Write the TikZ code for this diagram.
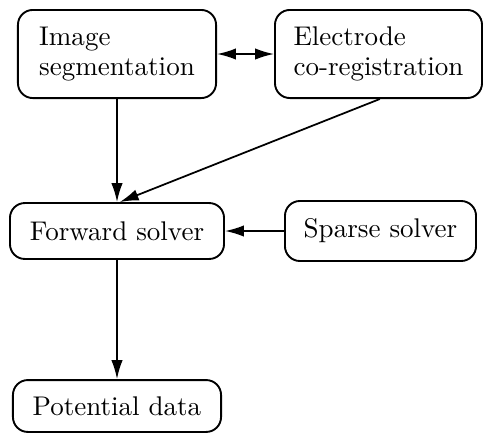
\documentclass[tikz,border=0pt]{standalone}
\usetikzlibrary{arrows.meta}
\begin{document}
\begin{tikzpicture}[x=0.37pt,y=-0.37pt,
  box/.style={draw,rounded corners=5.5pt,line width=0.7pt,inner sep=0pt,align=left,font=\fontsize{10}{11}\selectfont},
  arr/.style={line width=0.65pt,-{Latex[length=7pt,width=4.2pt]}},
  darr/.style={line width=0.65pt,{Latex[length=7pt,width=4.2pt]}-{Latex[length=7pt,width=4.2pt]}}]
\useasboundingbox (0,0) rectangle (483,433);
\node[box,minimum width=73.3pt,minimum height=32.6pt] (img) at (117,54) {Image\\segmentation};
\node[box,minimum width=76.6pt,minimum height=32.6pt] (elec) at (378.5,54) {Electrode\\co-registration};
\node[box,minimum width=79.2pt,minimum height=20.7pt] (fwd) at (117,231) {Forward solver};
\node[box,minimum width=70.7pt,minimum height=22.2pt] (sps) at (380.5,231) {Sparse solver};
\node[box,minimum width=77pt,minimum height=19.2pt] (pot) at (117,406) {Potential data};
\draw[darr] (img.east) -- (elec.west);
\draw[arr] (img.south) -- (fwd.north);
\draw[arr] ([xshift=0.5pt]elec.south) -- ([xshift=1pt]fwd.north);
\draw[arr] (sps.west) -- (fwd.east);
\draw[arr] (fwd.south) -- (pot.north);
\end{tikzpicture}
\end{document}
